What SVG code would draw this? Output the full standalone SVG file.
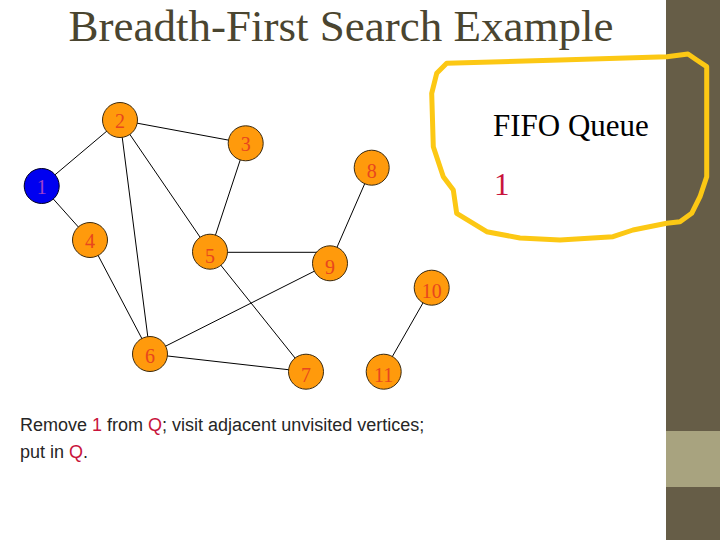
<svg xmlns="http://www.w3.org/2000/svg" width="720" height="540" viewBox="0 0 720 540">
<style>
.n{fill:#ff9a0c;stroke:#3a2a10;stroke-width:1}
.l{font-family:"Liberation Serif",serif;font-size:20px;fill:#e8461e;text-anchor:middle}
.e{stroke:#000;stroke-width:1;fill:none}
.t{font-family:"Liberation Sans",sans-serif;font-size:18px;fill:#262626}
.r{fill:#c8143c}
</style>
<rect width="720" height="540" fill="#fff"/>
<rect x="666" y="0" width="54" height="540" fill="#665d47"/>
<rect x="666" y="431" width="54" height="56" fill="#a8a37f"/>
<text x="341" y="41" font-family="Liberation Serif,serif" font-size="45" fill="#4a4530" text-anchor="middle">Breadth-First Search Example</text>
<g id="edges">
<line class="e" x1="41.7" y1="186" x2="120" y2="120"/>
<line class="e" x1="41.7" y1="186" x2="90" y2="240"/>
<line class="e" x1="120" y1="120" x2="245.7" y2="143.3"/>
<line class="e" x1="120" y1="120" x2="210" y2="251.7"/>
<line class="e" x1="120" y1="120" x2="150" y2="354"/>
<line class="e" x1="245.7" y1="143.3" x2="210" y2="251.7"/>
<line class="e" x1="90" y1="240" x2="150" y2="354"/>
<line class="e" x1="210" y1="252.3" x2="320" y2="252.3"/>
<line class="e" x1="210" y1="251.7" x2="306" y2="371.7"/>
<line class="e" x1="371.7" y1="167.7" x2="330" y2="263.3"/>
<line class="e" x1="330" y1="263.3" x2="150" y2="354"/>
<line class="e" x1="150" y1="354" x2="306" y2="371.7"/>
<line class="e" x1="431.7" y1="287.7" x2="383.7" y2="371.7"/>
</g>
<g id="n1"><circle cx="41.7" cy="186" r="17.5" fill="#0000f0" stroke="#000020"/><text class="l" x="41.7" y="194" style="fill:#a040c8">1</text></g>
<g id="n2"><circle class="n" cx="120" cy="120" r="17.5"/><text class="l" x="120" y="128">2</text></g>
<g id="n3"><circle class="n" cx="245.7" cy="143.3" r="17.5"/><text class="l" x="245.7" y="151">3</text></g>
<g id="n4"><circle class="n" cx="90" cy="240" r="17.5"/><text class="l" x="90" y="248">4</text></g>
<g id="n5"><circle class="n" cx="210" cy="251.7" r="17.5"/><text class="l" x="210" y="263">5</text></g>
<g id="n6"><circle class="n" cx="150" cy="354" r="17.5"/><text class="l" x="150" y="363">6</text></g>
<g id="n7"><circle class="n" cx="306" cy="371.7" r="17.5"/><text class="l" x="306" y="382">7</text></g>
<g id="n8"><circle class="n" cx="371.7" cy="167.7" r="17.5"/><text class="l" x="371.7" y="178">8</text></g>
<g id="n9"><circle class="n" cx="330" cy="263.3" r="17.5"/><text class="l" x="330" y="274">9</text></g>
<g id="n10"><circle class="n" cx="431.7" cy="287.7" r="17.5"/><text class="l" x="431.7" y="298">10</text></g>
<g id="n11"><circle class="n" cx="383.7" cy="371.7" r="17.5"/><text class="l" x="383.7" y="382">11</text></g>
<path d="M446.7,63.3 L560,60 L666.7,56.7 L688,54 L696.7,60 L706.7,66.7 L706.7,176.7 L700,196.7 L691.7,213.3 L680,221.7 L666.7,223.3 L633,230 L613,236.7 L560,240 L520,238 L486.7,231.7 L456.7,213.3 L453.3,190 L443.3,176.7 L433.3,146.7 L431.7,93.3 L436.7,73.3 Z" fill="none" stroke="#fcc814" stroke-width="5" stroke-linejoin="round"/>
<text x="493" y="136" font-family="Liberation Serif,serif" font-size="31" fill="#000">FIFO Queue</text>
<text x="494" y="195" font-family="Liberation Serif,serif" font-size="31" fill="#c8143c">1</text>
<text class="t" x="20" y="431">Remove <tspan class="r">1</tspan> from <tspan class="r">Q</tspan>; visit adjacent unvisited vertices;</text>
<text class="t" x="20" y="458">put in <tspan class="r">Q</tspan>.</text>
</svg>
